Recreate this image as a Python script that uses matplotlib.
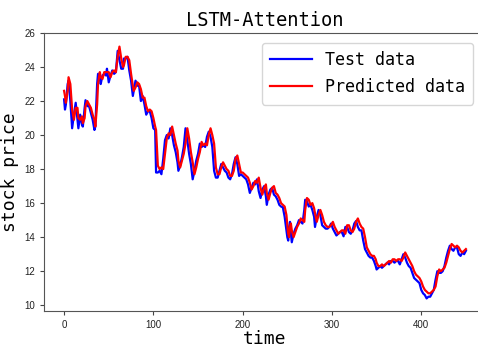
import matplotlib
matplotlib.use("Agg")
import matplotlib.pyplot as plt
import numpy as np

t = [0, 1, 2, 4, 5, 7, 9, 11, 13, 15, 16, 18, 20, 21, 23, 24, 26, 28, 30, 32, 34, 35,
     37, 38, 40, 41, 43, 45, 47, 48, 50, 52, 54, 56, 58, 60, 62, 64, 66, 67, 69, 71,
     73, 75, 77, 78, 80, 82, 84, 86, 88, 90, 92, 94, 96, 98, 100, 102, 103, 105, 107,
     109, 111, 113, 115, 117, 119, 121, 123, 125, 127, 128, 130, 132, 134, 136, 138,
     140, 142, 144, 146, 148, 150, 152, 154, 156, 158, 160, 162, 164, 166, 168, 170,
     172, 174, 176, 178, 180, 182, 184, 186, 188, 190, 192, 194, 196, 198, 200, 202,
     204, 206, 208, 210, 212, 214, 216, 218, 220, 222, 224, 226, 227, 229, 231, 233,
     235, 237, 239, 241, 243, 245, 247, 249, 250, 251, 252, 253, 254, 255, 257, 259,
     261, 263, 265, 267, 269, 270, 272, 274, 276, 278, 280, 281, 283, 285, 287, 289,
     291, 293, 295, 297, 299, 301, 303, 305, 307, 309, 311, 313, 315, 317, 319, 321,
     323, 325, 327, 329, 331, 333, 335, 337, 339, 341, 343, 345, 347, 349, 350, 352,
     354, 356, 358, 360, 362, 364, 366, 368, 370, 372, 374, 376, 378, 380, 382, 384,
     386, 388, 390, 392, 394, 396, 398, 400, 402, 404, 406, 408, 410, 412, 414, 416,
     418, 420, 422, 424, 426, 428, 430, 432, 434, 436, 438, 440, 442, 444, 446, 448, 450]

test = [22.1, 21.5, 21.8, 23.0, 23.2, 22.0, 20.4, 21.2, 21.9, 20.9, 20.4, 21.2, 20.6, 20.5,
        21.6, 22.05, 21.7, 21.7, 21.3, 20.9, 20.3, 20.5, 23.0, 23.6, 23.3, 23.0, 23.5, 23.6,
        23.5, 23.9, 23.1, 23.5, 23.8, 23.6, 23.7, 24.95, 24.4, 23.9, 23.9, 24.5, 24.5, 24.6,
        23.8, 23.2, 22.3, 22.6, 23.2, 22.9, 22.9, 22.0, 22.3, 21.8, 21.2, 21.4, 21.4, 21.0,
        20.4, 20.3, 17.8, 17.8, 17.9, 17.7, 18.6, 19.7, 20.0, 19.8, 20.4, 20.0, 19.4, 19.0,
        18.4, 17.9, 18.2, 18.7, 19.3, 20.4, 19.7, 18.9, 18.3, 17.4, 17.9, 18.5, 18.9, 19.5,
        19.3, 19.4, 19.3, 19.9, 20.2, 19.9, 19.3, 17.9, 17.5, 17.5, 17.9, 18.3, 18.1, 17.9,
        17.8, 17.5, 17.4, 17.7, 18.3, 18.7, 18.3, 17.6, 17.7, 17.6, 17.5, 17.4, 17.1, 16.6,
        16.9, 17.2, 17.1, 17.4, 16.7, 16.3, 16.8, 17.0, 16.4, 15.9, 16.5, 16.8, 16.9, 16.5,
        16.4, 16.2, 15.9, 15.8, 15.75, 15.2, 14.4, 14.0, 13.8, 14.6, 14.9, 14.2, 13.7, 14.2,
        14.5, 14.7, 15.0, 14.9, 14.8, 15.6, 16.2, 16.1, 15.8, 15.9, 15.6, 15.2, 14.6, 15.2,
        15.6, 15.3, 14.7, 14.6, 14.5, 14.5, 14.6, 14.8, 14.5, 14.3, 14.1, 14.2, 14.3, 14.3,
        14.05, 14.6, 14.6, 14.3, 14.2, 14.4, 14.8, 14.95, 14.6, 14.4, 14.4, 13.8, 13.3, 13.1,
        12.9, 12.8, 12.8, 12.6, 12.3, 12.1, 12.2, 12.3, 12.2, 12.3, 12.4, 12.5, 12.4, 12.6,
        12.6, 12.5, 12.6, 12.6, 12.4, 12.7, 13.0, 12.8, 12.5, 12.3, 12.2, 11.9, 11.6, 11.5,
        11.4, 11.3, 10.9, 10.7, 10.6, 10.4, 10.5, 10.5, 10.7, 10.9, 11.5, 12.0, 11.9, 11.9,
        12.0, 12.3, 12.8, 13.2, 13.5, 13.3, 13.2, 13.4, 13.4, 13.0, 12.9, 13.1, 13.0, 13.2]

pred = [22.6, 22.3, 21.9, 22.6, 23.4, 23.0, 21.5, 20.9, 21.6, 21.6, 21.0, 20.9, 21.1, 20.7,
        21.0, 21.7, 22.0, 21.8, 21.6, 21.2, 20.9, 20.5, 21.8, 23.0, 23.7, 23.4, 23.3, 23.7,
        23.7, 23.7, 23.7, 23.4, 23.7, 23.8, 23.7, 24.6, 25.2, 24.5, 24.0, 24.1, 24.6, 24.6,
        24.4, 23.6, 22.9, 22.6, 22.8, 23.1, 23.0, 22.7, 22.2, 22.2, 21.7, 21.4, 21.5, 21.4,
        21.0, 20.5, 20.3, 18.2, 18.0, 18.1, 18.0, 18.9, 19.8, 20.1, 20.0, 20.5, 20.0, 19.5,
        19.1, 18.5, 18.1, 18.5, 18.9, 19.5, 20.4, 19.8, 19.0, 18.4, 17.7, 18.1, 18.6, 19.0,
        19.6, 19.4, 19.5, 19.4, 20.0, 20.4, 20.0, 19.5, 18.1, 17.7, 17.7, 18.1, 18.4, 18.2,
        18.0, 17.9, 17.6, 17.6, 17.9, 18.6, 18.8, 18.3, 17.8, 17.8, 17.7, 17.6, 17.5, 17.2,
        16.8, 17.0, 17.3, 17.2, 17.5, 16.9, 16.5, 16.9, 17.1, 16.6, 16.2, 16.6, 16.9, 17.0,
        16.6, 16.5, 16.3, 16.0, 15.9, 15.8, 15.3, 14.7, 14.2, 14.0, 14.6, 14.8, 14.4, 14.0,
        14.3, 14.6, 14.8, 15.1, 15.0, 14.9, 15.6, 16.3, 16.2, 15.9, 16.0, 15.7, 15.4, 14.9,
        15.3, 15.6, 15.3, 14.9, 14.7, 14.6, 14.6, 14.7, 14.9, 14.6, 14.4, 14.2, 14.3, 14.4,
        14.4, 14.2, 14.7, 14.7, 14.4, 14.3, 14.5, 14.9, 15.1, 14.8, 14.6, 14.5, 14.0, 13.4,
        13.2, 13.0, 12.9, 12.9, 12.7, 12.5, 12.3, 12.3, 12.4, 12.3, 12.4, 12.5, 12.6, 12.5,
        12.7, 12.7, 12.6, 12.7, 12.7, 12.6, 12.8, 13.1, 12.9, 12.7, 12.5, 12.3, 12.0, 11.8,
        11.7, 11.6, 11.4, 11.1, 10.9, 10.8, 10.7, 10.7, 10.8, 10.9, 11.1, 11.7, 12.1, 12.0,
        12.1, 12.2, 12.5, 12.9, 13.3, 13.6, 13.5, 13.4, 13.5, 13.4, 13.2, 13.1, 13.2, 13.3]

mono = 'DejaVu Sans Mono'

fig = plt.figure(figsize=(4.78, 3.46), dpi=100)
ax = fig.add_axes([44/478, 1-311/346, (486-44)/478, (311-33)/346])

ax.plot(t, test, 'b', lw=1.6, label='Test data')
ax.plot(t, pred, 'r', lw=1.6, label='Predicted data')

ax.set_title('LSTM-Attention', fontsize=13.5, family=mono, pad=5)
ax.set_xlabel('time', fontsize=13, family=mono, labelpad=0)
ax.set_ylabel('stock price', fontsize=13, family=mono, labelpad=4)
ax.set_xticks([0, 100, 200, 300, 400])
ax.set_yticks([10, 12, 14, 16, 18, 20, 22, 24, 26])
ax.tick_params(labelsize=7, length=3, color='#444444', labelcolor='#222222')
for tl in ax.get_xticklabels() + ax.get_yticklabels():
    tl.set_family('Liberation Sans')
for s in ax.spines.values():
    s.set_color('#555555')
ax.spines['right'].set_visible(False)

ax.legend(loc='upper right', bbox_to_anchor=(0.99, 0.995), prop={'family': mono, 'size': 12},
          handlelength=2.5, borderpad=0.5, labelspacing=0.55)

fig.savefig('out.png', dpi=100)
